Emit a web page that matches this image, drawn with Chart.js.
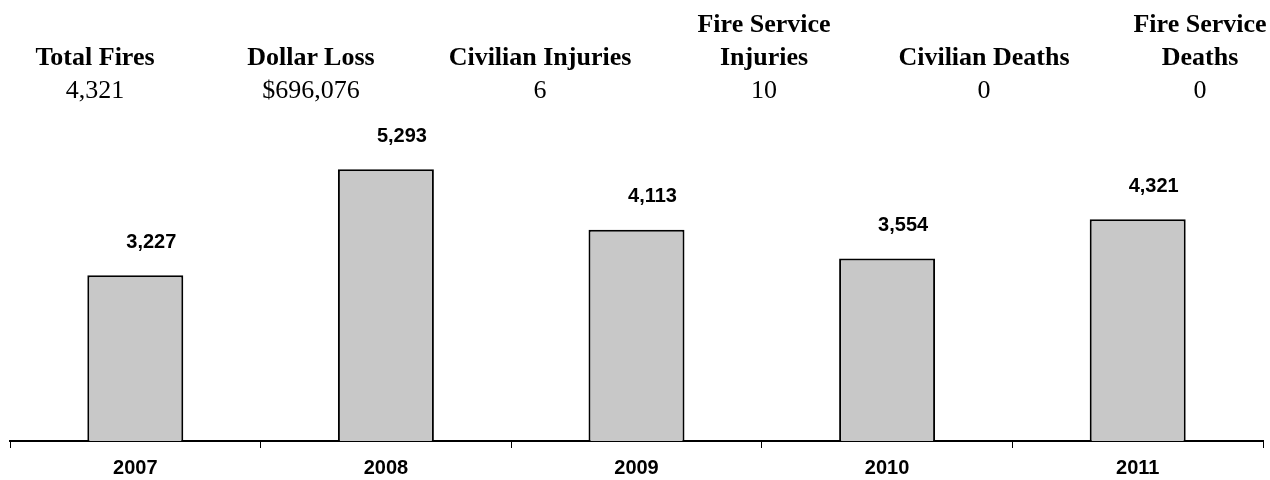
<!DOCTYPE html>
<html>
<head>
<meta charset="utf-8">
<script src="https://cdn.jsdelivr.net/npm/chart.js@4.4.1/dist/chart.umd.min.js"></script>
<style>
  html, body { margin: 0; padding: 0; background: #fff; }
  #wrap { position: relative; width: 1270px; height: 480px; overflow: hidden; }
  canvas { position: absolute; left: 0; top: 0; }
  .hdr { position: absolute; font-family: "Liberation Serif", "Times New Roman", serif; font-size: 26px; color: #000; text-align: center; width: 260px; line-height: 33px; white-space: nowrap; }
  .hdr b { display: block; }
</style>
</head>
<body>
<div id="wrap">
  <canvas id="c" width="1270" height="480"></canvas>
</div>
<script>
const categories = ["2007", "2008", "2009", "2010", "2011"];
const totalFires = [3227, 5293, 4113, 3554, 4321];
const summaryLabels = [["Total Fires"], ["Dollar Loss"], ["Civilian Injuries"], ["Fire Service", "Injuries"], ["Civilian Deaths"], ["Fire Service", "Deaths"]];
const summaryValues = ["4,321", "$696,076", "6", "10", "0", "0"];
const summaryCenters = [95, 311, 540, 764, 984, 1200];

// header
const wrap = document.getElementById('wrap');
summaryLabels.forEach((lines, i) => {
  const d = document.createElement('div');
  d.className = 'hdr';
  d.style.left = (summaryCenters[i] - 130) + 'px';
  const top = 7 + (2 - lines.length) * 33;
  d.style.top = top + 'px';
  d.innerHTML = lines.map(l => '<b>' + l + '</b>').join('') + '<span>' + summaryValues[i] + '</span>';
  wrap.appendChild(d);
});

const labelPlugin = {
  id: 'valueLabels',
  afterDatasetsDraw(chart) {
    const ctx = chart.ctx;
    const meta = chart.getDatasetMeta(0);
    ctx.save();
    ctx.font = 'bold 20px "Liberation Sans", Arial, sans-serif';
    ctx.fillStyle = '#000';
    ctx.textAlign = 'center';
    ctx.textBaseline = 'middle';
    meta.data.forEach((bar, i) => {
      ctx.fillText(totalFires[i].toLocaleString('en-US'), bar.x + 16, bar.y - 33);
    });
    ctx.restore();
  }
};

new Chart(document.getElementById('c'), {
  type: 'bar',
  data: {
    labels: categories,
    datasets: [{
      data: totalFires,
      backgroundColor: '#c8c8c8',
      borderColor: '#000',
      borderWidth: 2,
      barPercentage: 0.383,
      categoryPercentage: 1.0
    }]
  },
  options: {
    responsive: false,
    animation: false,
    layout: { padding: { left: 10, right: 7, top: 133, bottom: 0 } },
    plugins: { legend: { display: false }, tooltip: { enabled: false } },
    scales: {
      x: {
        grid: { display: true, offset: true, drawOnChartArea: false, drawTicks: true, tickLength: 7, color: '#000', lineWidth: 1 },
        border: { display: true, color: '#000', width: 2 },
        ticks: { color: '#000', font: { family: '"Liberation Sans", Arial, sans-serif', size: 20, weight: 'bold' }, padding: 8, maxRotation: 0 },
        afterFit(scale) { scale.height = 39; }
      },
      y: {
        display: false,
        min: 0,
        max: 6000
      }
    }
  },
  plugins: [labelPlugin]
});
</script>
</body>
</html>
